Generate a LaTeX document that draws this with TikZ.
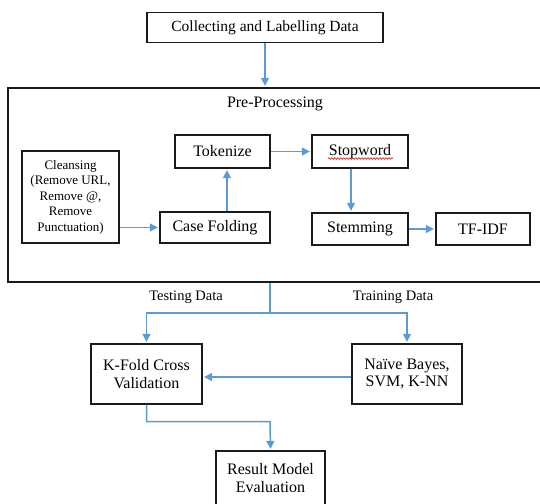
\documentclass[tikz,border=0pt]{standalone}
\usepackage{fontspec}
\setmainfont{Liberation Serif}
\usepackage{tikz}
\usetikzlibrary{arrows.meta,decorations.pathmorphing}
\usepackage{xcolor}
\definecolor{ink}{HTML}{1A1A1A}
\definecolor{flowblue}{HTML}{5B9BD5}
\definecolor{spell}{HTML}{D9302C}
\tikzset{stepbox/.style={draw=ink,line width=1.3pt,fill=white,inner sep=2pt,align=center,font=\fontsize{16}{17.5}\selectfont},smallbox/.style={stepbox,font=\fontsize{13}{15.5}\selectfont},outerbox/.style={draw=ink,line width=1.3pt},flow/.style={-{Triangle[length=8pt,width=8pt]},flowblue,line width=1.5pt,shorten >=1.5pt},link/.style={flowblue,line width=1.5pt},note/.style={font=\fontsize{14.5}{16}\selectfont,align=center}}
\begin{document}
\begin{tikzpicture}[x=1pt,y=-1pt]
\clip (0,0) rectangle (540,503);
\node[stepbox,minimum width=236,minimum height=30,font=\fontsize{15.5}{17}\selectfont] (collect) at (265,27.5) {Collecting and Labelling Data};
\node[outerbox,minimum width=537,minimum height=194] (prep) at (276.5,185) {};
\node[note,font=\fontsize{16}{17}\selectfont] (preTitle) at (275,104) {Pre-Processing};
\node[smallbox,minimum width=97,minimum height=92] (cleanse) at (70.5,197) {Cleansing\\(Remove URL,\\Remove @,\\Remove\\Punctuation)};
\node[stepbox,minimum width=110,minimum height=31] (casefold) at (215,227.5) {Case Folding};
\node[stepbox,minimum width=95,minimum height=33] (token) at (222.5,151.5) {Tokenize};
\node[stepbox,minimum width=96,minimum height=33] (stop) at (360,151.5) {Stopword};
\node[stepbox,minimum width=96,minimum height=32] (stem) at (360,229) {Stemming};
\node[stepbox,minimum width=94,minimum height=32] (tfidf) at (483,229) {TF-IDF};
\node[stepbox,minimum width=111,minimum height=60] (kfold) at (146.5,374) {K-Fold Cross\\Validation};
\node[stepbox,minimum width=110,minimum height=60] (naive) at (407,374) {Naïve Bayes,\\SVM, K-NN};
\node[stepbox,minimum width=109,minimum height=54] (result) at (270.5,478) {Result Model\\Evaluation};
\coordinate (split) at (270,313);
\coordinate (bend) at (270,421.5);
% spelling mark under Stopword
\draw[spell,line width=.7pt,decorate,decoration={snake,amplitude=.8pt,segment length=3pt}] ([xshift=-32pt,yshift=-7pt]stop.center) -- ([xshift=33pt,yshift=-7pt]stop.center);
\draw[flow] (collect) -- (collect |- prep.north);
\draw[flow] (cleanse.east |- casefold) -- (casefold.west);
\draw[flow] ([xshift=12pt]casefold.north) -- ([xshift=12pt]casefold.north |- token.south);
\draw[flow] (token) -- (stop);
\draw[flow] ([xshift=-9pt]stop.south) -- ([xshift=-9pt]stem.north);
\draw[flow] (stem) -- (tfidf);
\draw[link] (split |- prep.south) -- (split);
\draw[flow] (split) -| (kfold.north);
\draw[flow] (split) -| (naive.north);
\draw[flow] (naive.west |- 0,377) -- (kfold.east |- 0,377);
\draw[flow] (kfold.south) |- (bend) -- (result.north);
\node[note] (testLbl) at (186,297.5) {Testing Data};
\node[note] (trainLbl) at (393,297.5) {Training Data};
\end{tikzpicture}
\end{document}
